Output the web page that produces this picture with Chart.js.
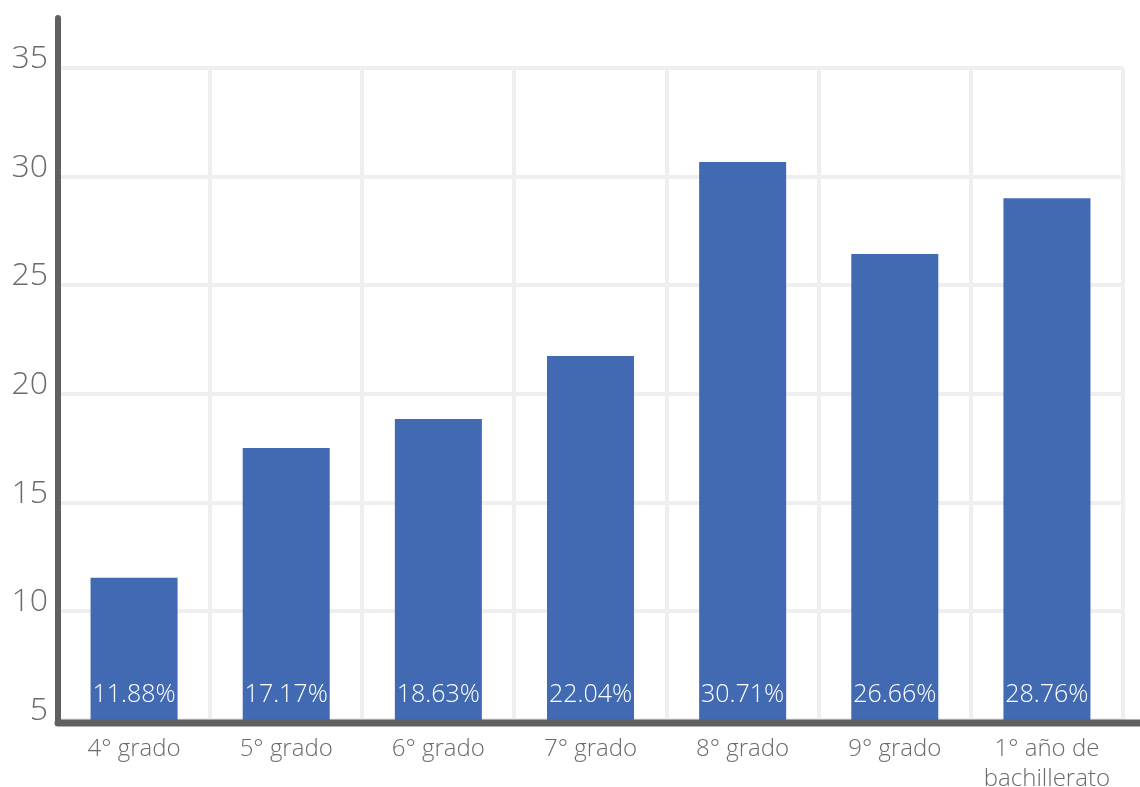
<!DOCTYPE html>
<html>
<head>
<meta charset="utf-8">
<script src="https://cdn.jsdelivr.net/npm/chart.js@4"></script>
<style>
  html, body { margin: 0; padding: 0; background: #fff; }
  #wrap { width: 1140px; height: 787px; }
</style>
</head>
<body>
<div id="wrap"><canvas id="gradoChart"></canvas></div>
<script>
// categories and values
const grados = ['4° grado', '5° grado', '6° grado', '7° grado', '8° grado', '9° grado', ['1° año de', 'bachillerato']];
const alturas = [11.54, 17.52, 18.85, 21.75, 30.67, 26.44, 29.01];
const etiquetas = ['11.88%', '17.17%', '18.63%', '22.04%', '30.71%', '26.66%', '28.76%'];
const yTicks = [5, 10, 15, 20, 25, 30, 35];

const FONT = '"Open Sans", Lato, sans-serif';

// thick axis lines + labels inside the bars
const axisAndLabels = {
    id: 'axisAndLabels',
    afterDatasetsDraw(chart) {
        const ctx = chart.ctx;
        const area = chart.chartArea;
        const meta = chart.getDatasetMeta(0);
        ctx.save();
        ctx.fillStyle = '#ffffff';
        ctx.font = '300 25px ' + FONT;
        ctx.textAlign = 'center';
        ctx.textBaseline = 'middle';
        meta.data.forEach(function (bar, i) {
            ctx.fillText(etiquetas[i], bar.x, area.bottom - 25);
        });

        ctx.strokeStyle = '#5f605f';
        ctx.lineCap = 'round';
        ctx.lineWidth = 7;
        ctx.beginPath();
        ctx.moveTo(area.left, area.bottom + 3);
        ctx.lineTo(chart.width + 10, area.bottom + 3);
        ctx.stroke();
        ctx.lineWidth = 6;
        ctx.beginPath();
        ctx.moveTo(area.left, 18);
        ctx.lineTo(area.left, area.bottom + 3);
        ctx.stroke();
        ctx.restore();
    }
};

const data = {
    labels: grados,
    datasets: [{
        data: alturas,
        backgroundColor: '#426ab2',
        borderWidth: 0,
        categoryPercentage: 1,
        barPercentage: 0.572
    }]
};

const config = {
    type: 'bar',
    data: data,
    options: {
        responsive: true,
        maintainAspectRatio: false,
        animation: false,
        layout: { padding: { top: 68, right: 17, left: 0, bottom: 0 } },
        plugins: {
            legend: { display: false },
            tooltip: { enabled: false }
        },
        scales: {
            x: {
                offset: true,
                grid: { color: '#efefef', lineWidth: 4, drawTicks: false, offset: true },
                border: { display: false },
                ticks: {
                    color: '#6b6b6b',
                    font: { family: FONT, size: 24, weight: 300, lineHeight: 1.22 },
                    padding: 15,
                    maxRotation: 0
                },
                afterFit: function (scale) { scale.height = 67; }
            },
            y: {
                min: 5,
                max: 35,
                grid: { color: '#efefef', lineWidth: 4, drawTicks: false },
                border: { display: false },
                afterBuildTicks: function (scale) {
                    scale.ticks = yTicks.map(v => ({ value: v }));
                },
                ticks: {
                    color: '#6b6b6b',
                    font: { family: FONT, size: 32, weight: 300 },
                    padding: 10,
                    labelOffset: -9
                },
                afterFit: function (scale) { scale.width = 58; }
            }
        }
    },
    plugins: [axisAndLabels]
};

const gradoChart = new Chart(document.getElementById('gradoChart'), config);
</script>
</body>
</html>
